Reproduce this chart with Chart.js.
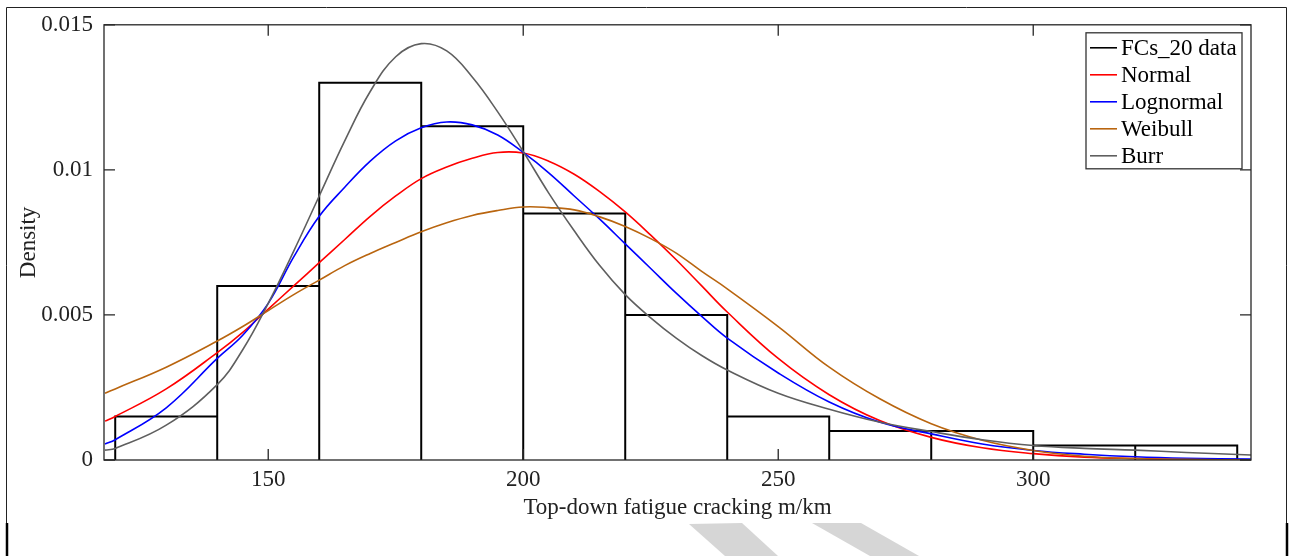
<!DOCTYPE html>
<html>
<head>
<meta charset="utf-8">
<script src="https://cdn.jsdelivr.net/npm/chart.js@4.4.1/dist/chart.umd.min.js"></script>
<style>
  body { margin: 0; background: #fff; }
  canvas { display: block; }
</style>
</head>
<body>
<canvas id="chart1" width="1292" height="556"></canvas>
<script>
// histogram of FCs_20 (density per 20 m/km bin)
var binEdges = [120, 140, 160, 180, 200, 220, 240, 260, 280, 300, 320, 340];
var density = [0.0015, 0.006, 0.013, 0.0115, 0.0085, 0.005, 0.0015, 0.001, 0.001, 0.0005, 0.0005];

// fitted pdf curves
var curveX = [118, 120, 130, 140, 145, 150, 155, 160, 165, 170, 175, 180, 185, 190, 195, 200, 205, 210, 215, 220, 225, 230, 235, 240, 250, 260, 270, 280, 290, 300, 310, 320, 330, 342.7];
var normalPdf = [0.00134, 0.0015, 0.00245, 0.0037, 0.0044, 0.0052, 0.006, 0.0068, 0.0076, 0.0084, 0.0091, 0.0097, 0.0101, 0.0104, 0.0106, 0.01058, 0.0103, 0.00985, 0.00925, 0.00855, 0.00775, 0.0069, 0.006, 0.0051, 0.0035, 0.00225, 0.00135, 0.00078, 0.00042, 0.00022, 0.0001, 0.00005, 0.00002, 0.00001];
var lognormalPdf = [0.00055, 0.0007, 0.0018, 0.0035, 0.0043, 0.0054, 0.007, 0.0084, 0.0094, 0.0103, 0.011, 0.01145, 0.01165, 0.01155, 0.0112, 0.0106, 0.0099, 0.0091, 0.0083, 0.00745, 0.0066, 0.00575, 0.00495, 0.0042, 0.003, 0.002, 0.0013, 0.0009, 0.00055, 0.00033, 0.0002, 0.00011, 0.00006, 0.00003];
var weibullPdf = [0.0023, 0.00245, 0.0032, 0.0041, 0.0046, 0.00515, 0.0057, 0.0062, 0.0067, 0.00712, 0.0075, 0.00787, 0.00818, 0.00843, 0.0086, 0.00872, 0.0087, 0.00862, 0.00838, 0.00805, 0.00763, 0.00713, 0.0065, 0.0059, 0.0046, 0.0032, 0.0021, 0.00125, 0.00068, 0.00033, 0.00013, 0.00005, 0.00002, 0.000005];
var burrPdf = [0.00034, 0.0004, 0.0012, 0.0026, 0.0038, 0.0054, 0.0072, 0.0091, 0.011, 0.0127, 0.0139, 0.01435, 0.0141, 0.0132, 0.012, 0.01063, 0.0092, 0.0079, 0.0067, 0.0057, 0.0049, 0.0042, 0.0036, 0.0031, 0.0023, 0.00175, 0.0013, 0.00098, 0.0007, 0.0005, 0.0004, 0.00034, 0.00026, 0.00017];

var seriesNames = ["FCs_20 data", "Normal", "Lognormal", "Weibull", "Burr"];
var seriesColors = ["#000000", "#ff0000", "#0000ff", "#b9650f", "#5f5f5f"];

var xTicks = [150, 200, 250, 300];
var yTicks = [0, 0.005, 0.01, 0.015];
var yTickLabels = ["0", "0.005", "0.01", "0.015"];

var serif = "'Liberation Serif', 'Times New Roman', serif";
var axisColor = "#262626";
var fontSize = 23;

// rectangle outlines of the histogram bars
var histPoints = [];
density.forEach(function(h, i){
  histPoints.push({x: binEdges[i], y: 0}, {x: binEdges[i], y: h}, {x: binEdges[i+1], y: h}, {x: binEdges[i+1], y: 0});
});

function curve(values){
  return curveX.map(function(x, i){ return {x: x, y: values[i]}; });
}

function lineSet(idx, points, order, width){
  return {
    label: seriesNames[idx],
    data: points,
    borderColor: seriesColors[idx],
    borderWidth: width,
    pointRadius: 0,
    fill: false,
    order: order
  };
}

var histSet = lineSet(0, histPoints, 9, 2);
histSet.tension = 0;
histSet.borderJoinStyle = 'miter';

var curveSets = [
  lineSet(1, curve(normalPdf), 4, 1.6),
  lineSet(2, curve(lognormalPdf), 3, 1.6),
  lineSet(3, curve(weibullPdf), 2, 1.6),
  lineSet(4, curve(burrPdf), 1, 1.6)
];
curveSets.forEach(function(d){ d.tension = 0.4; });

// page frame, faint watermark, inward ticks, box and legend
var figurePlugin = {
  id: 'figurePlugin',
  beforeDraw: function(chart){
    var ctx = chart.ctx;
    ctx.save();
    ctx.fillStyle = '#fff';
    ctx.fillRect(0, 0, chart.width, chart.height);

    ctx.fillStyle = '#d6d6d6';
    ctx.beginPath();
    ctx.moveTo(689, 524); ctx.lineTo(742, 523); ctx.lineTo(778, 556); ctx.lineTo(725, 556);
    ctx.closePath(); ctx.fill();
    ctx.beginPath();
    ctx.moveTo(812, 523); ctx.lineTo(861, 523); ctx.lineTo(919, 556); ctx.lineTo(870, 556);
    ctx.closePath(); ctx.fill();

    ctx.strokeStyle = '#222';
    ctx.lineWidth = 1;
    ctx.beginPath();
    ctx.moveTo(6.5, 523); ctx.lineTo(6.5, 7.5); ctx.lineTo(1286.5, 7.5); ctx.lineTo(1286.5, 523);
    ctx.stroke();
    ctx.strokeStyle = '#000';
    ctx.lineWidth = 2.5;
    ctx.beginPath();
    ctx.moveTo(7, 523); ctx.lineTo(7, 556);
    ctx.moveTo(1287, 523); ctx.lineTo(1287, 556);
    ctx.stroke();
    ctx.restore();
  },
  afterDraw: function(chart){
    var ctx = chart.ctx;
    var a = chart.chartArea;
    var xs = chart.scales.x, ys = chart.scales.y;
    var tl = 11;
    ctx.save();
    ctx.strokeStyle = axisColor;
    ctx.lineWidth = 1.3;
    ctx.strokeRect(a.left, a.top, a.right - a.left, a.bottom - a.top);
    ctx.beginPath();
    xTicks.forEach(function(v){
      var px = xs.getPixelForValue(v);
      ctx.moveTo(px, a.bottom); ctx.lineTo(px, a.bottom - tl);
      ctx.moveTo(px, a.top); ctx.lineTo(px, a.top + tl);
    });
    yTicks.forEach(function(v){
      var py = ys.getPixelForValue(v);
      ctx.moveTo(a.left, py); ctx.lineTo(a.left + tl, py);
      ctx.moveTo(a.right, py); ctx.lineTo(a.right - tl, py);
    });
    ctx.stroke();

    // legend box in the upper right corner
    var bw = 156, bh = 136;
    var bx = a.right - 9 - bw, by = a.top + 8;
    ctx.fillStyle = '#fff';
    ctx.fillRect(bx, by, bw, bh);
    ctx.strokeStyle = '#333';
    ctx.lineWidth = 1.3;
    ctx.strokeRect(bx, by, bw, bh);
    ctx.font = fontSize + 'px ' + serif;
    ctx.textBaseline = 'middle';
    ctx.textAlign = 'left';
    chart.data.datasets.forEach(function(d, i){
      var ry = by + 15 + i * 27;
      ctx.strokeStyle = d.borderColor;
      ctx.lineWidth = 1.6;
      ctx.beginPath();
      ctx.moveTo(bx + 4, ry); ctx.lineTo(bx + 31, ry);
      ctx.stroke();
      ctx.fillStyle = '#000';
      ctx.fillText(d.label, bx + 35, ry + 1);
    });
    ctx.restore();
  }
};

new Chart(document.getElementById("chart1").getContext("2d"), {
  type: 'line',
  data: {
    datasets: [histSet].concat(curveSets)
  },
  options: {
    responsive: false,
    animation: false,
    devicePixelRatio: 1,
    layout: { padding: { left: 0, right: 41, top: 24, bottom: 0 } },
    plugins: {
      legend: { display: false },
      tooltip: { enabled: false }
    },
    scales: {
      x: {
        type: 'linear',
        min: 117.8,
        max: 342.7,
        afterFit: function(scale){ scale.height = 96; },
        afterBuildTicks: function(scale){
          scale.ticks = xTicks.map(function(v){ return {value: v}; });
        },
        grid: { display: false, drawTicks: false },
        border: { display: false },
        ticks: {
          padding: 6,
          maxRotation: 0,
          color: '#222',
          font: { family: serif, size: fontSize }
        },
        title: {
          display: true,
          text: 'Top-down fatigue cracking m/km',
          color: '#222',
          font: { family: serif, size: fontSize },
          padding: { top: 0, bottom: 34 }
        }
      },
      y: {
        type: 'linear',
        min: 0,
        max: 0.015,
        afterFit: function(scale){ scale.width = 104; },
        afterBuildTicks: function(scale){
          scale.ticks = yTicks.map(function(v){ return {value: v}; });
        },
        grid: { display: false, drawTicks: false },
        border: { display: false },
        ticks: {
          padding: 11,
          color: '#222',
          font: { family: serif, size: fontSize },
          callback: function(value){
            return yTickLabels[yTicks.indexOf(value)];
          }
        },
        title: {
          display: true,
          text: 'Density',
          color: '#222',
          font: { family: serif, size: fontSize },
          padding: { top: 15, bottom: 0 }
        }
      }
    }
  },
  plugins: [figurePlugin]
});
</script>
</body>
</html>
